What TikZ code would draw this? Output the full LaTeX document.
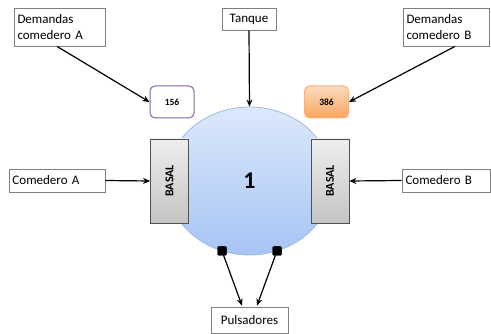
\documentclass[tikz,border=0pt]{standalone}
\usepackage{fontspec}
\setmainfont{Carlito}
\usetikzlibrary{arrows.meta,calc,shapes.geometric}
\definecolor{boxline}{HTML}{7F7F7F}
\definecolor{purp}{HTML}{8064A2}
\definecolor{orline}{HTML}{F9B07A}
\definecolor{ortop}{HTML}{FDDCC0}
\definecolor{orbot}{HTML}{F9A55E}
\definecolor{bltop}{HTML}{DDE9FB}
\definecolor{blbot}{HTML}{A6C4F5}
\definecolor{blline}{HTML}{9DB9E3}
\definecolor{grtop}{HTML}{EEEEEE}
\definecolor{grbot}{HTML}{C4C4C4}
\definecolor{grline}{HTML}{505050}
\tikzset{
  txtbox/.style={draw=boxline, line width=0.8pt, fill=white, inner sep=3pt, font=\fontsize{13}{16}\selectfont, align=left, anchor=center},
  numbox/.style={rounded corners=5pt, line width=1pt, font=\fontsize{9.5}{11}\selectfont\bfseries, minimum width=44pt, minimum height=32pt},
  basalbox/.style={draw=grline, line width=0.8pt, top color=grtop, bottom color=grbot, minimum width=38pt, minimum height=84pt, font=\fontsize{12}{14}\selectfont\bfseries},
  arr/.style={-{Stealth[length=7pt,width=6pt]}, line width=1.2pt, black},
  sq/.style={fill=black, rounded corners=1pt, minimum size=9pt, inner sep=0pt}
}
\begin{document}
\begin{tikzpicture}[x=1pt,y=-1pt]
\useasboundingbox (0,0) rectangle (491,334);
% ellipse tank
\node[ellipse, draw=blline, line width=0.8pt, top color=bltop, bottom color=blbot, minimum width=166pt, minimum height=148pt, inner sep=0pt] (tk) at (249.5,181) {};
\node[font=\fontsize{24}{26}\selectfont\bfseries] (one) at (249.5,181) {1};
% basal boxes
\node[basalbox] (bL) at (169.5,181) {\rotatebox{90}{BASAL}};
\node[basalbox] (bR) at (330,181) {\rotatebox{90}{BASAL}};
% text boxes
\node[txtbox, minimum width=91pt, minimum height=38pt, text width=84pt] (dA) at (59.5,27) {Demandas\\comedero A};
\node[txtbox, minimum width=54pt, minimum height=22pt, inner sep=1pt] (tq) at (249,19) {Tanque};
\node[txtbox, minimum width=86pt, minimum height=38pt, text width=79pt] (dB) at (446,27) {Demandas\\comedero B};
\node[txtbox, minimum width=96pt, minimum height=23pt, text width=89pt, inner sep=1pt] (cA) at (57,180.5) {Comedero A};
\node[txtbox, minimum width=88pt, minimum height=23pt, text width=81pt, inner sep=1pt] (cB) at (446,180.5) {Comedero B};
\node[txtbox, minimum width=77pt, minimum height=26pt, inner sep=1pt] (pu) at (249.5,320) {Pulsadores};
% number boxes
\node[numbox, draw=purp, fill=white] (n1) at (172,102) {156};
\node[numbox, draw=orline, top color=ortop, bottom color=orbot] (n2) at (326.5,102) {386};
% squares
\node[sq] (s1) at (222,251) {};
\node[sq] (s2) at (277,251) {};
% arrows
\draw[arr] ($(dA.south)+(-2.5,0)$) -- (n1.west);
\draw[arr] (tq.south) -- (tk.north);
\draw[arr] ($(dB.south)+(9,0)$) -- (n2.east);
\draw[arr] (cA.east) -- (bL.west);
\draw[arr] (cB.west) -- (bR.east);
\draw[arr] (s1.center) -- ($(pu.north)+(-7.5,-1)$);
\draw[arr] (s2.center) -- ($(pu.north)+(7.5,-1)$);
\node[sq] at (s1) {};
\node[sq] at (s2) {};
\end{tikzpicture}
\end{document}
